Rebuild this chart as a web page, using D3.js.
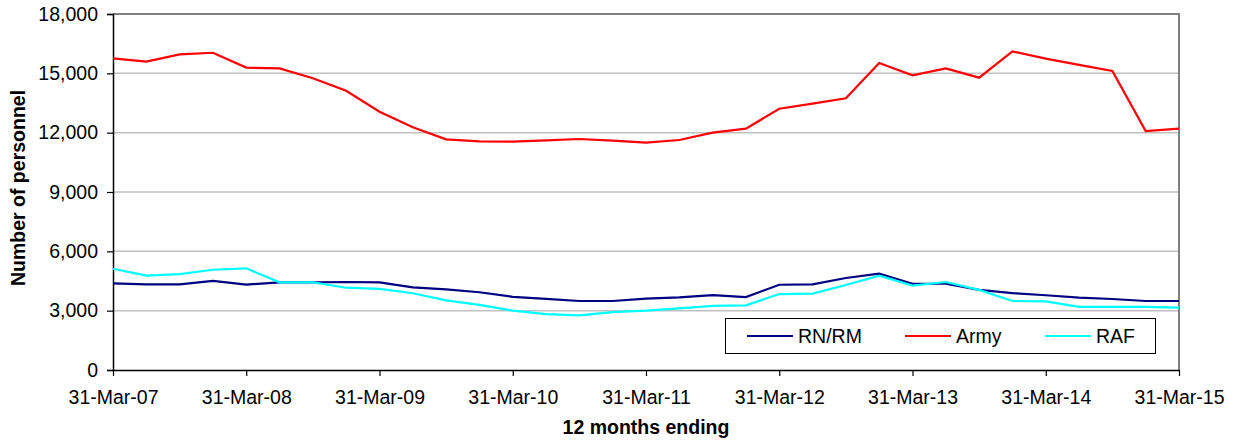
<!DOCTYPE html>
<html><head><meta charset="utf-8">
<script src="https://cdn.jsdelivr.net/npm/d3@7"></script>
<style>
html,body{margin:0;padding:0;background:#fff;}
svg{display:block;font-family:Arial,"Liberation Sans",sans-serif;}
</style></head>
<body>
<svg id="chart" width="1236" height="441"></svg>
<script>
const categories = [
 "31-Mar-07","30-Jun-07","30-Sep-07","31-Dec-07",
 "31-Mar-08","30-Jun-08","30-Sep-08","31-Dec-08",
 "31-Mar-09","30-Jun-09","30-Sep-09","31-Dec-09",
 "31-Mar-10","30-Jun-10","30-Sep-10","31-Dec-10",
 "31-Mar-11","30-Jun-11","30-Sep-11","31-Dec-11",
 "31-Mar-12","30-Jun-12","30-Sep-12","31-Dec-12",
 "31-Mar-13","30-Jun-13","30-Sep-13","31-Dec-13",
 "31-Mar-14","30-Jun-14","30-Sep-14","31-Dec-14",
 "31-Mar-15"];
const xTickLabels = ["31-Mar-07","31-Mar-08","31-Mar-09","31-Mar-10","31-Mar-11","31-Mar-12","31-Mar-13","31-Mar-14","31-Mar-15"];
const yTicks = [0,3000,6000,9000,12000,15000,18000];

const rnrm = [4380,4330,4330,4510,4320,4430,4430,4450,4430,4180,4080,3930,3700,3600,3490,3490,
              3610,3670,3790,3690,4310,4330,4650,4870,4360,4360,4050,3890,3780,3660,3590,3490,3490];
const army = [15760,15590,15960,16040,15290,15250,14750,14120,13060,12270,11660,11560,11550,11610,11680,11600,
              11500,11630,12000,12200,13210,13470,13740,15520,14900,15250,14780,16110,15740,15430,15120,12080,12200];
const raf  = [5120,4770,4850,5070,5140,4430,4430,4160,4100,3880,3520,3290,3000,2830,2760,2930,
              3000,3120,3240,3270,3840,3860,4300,4770,4270,4450,4050,3490,3470,3190,3190,3190,3150];

const series = [
  {name:"RN/RM", values:rnrm, color:"#000080"},
  {name:"Army",  values:army, color:"#ff0000"},
  {name:"RAF",   values:raf,  color:"#00ffff"}
];

const svg = d3.select("#chart");
const L=113, R=1179, T=14, B=370;
const x = d3.scalePoint().domain(categories).range([L,R]).padding(0);
const y = d3.scaleLinear().domain([0,18000]).range([B,T]);
const FS = "19.5px";

// gridlines
svg.append("g").selectAll("line").data(yTicks.filter(d=>d>0 && d<18000)).join("line")
  .attr("x1",L).attr("x2",R).attr("y1",d=>y(d)).attr("y2",d=>y(d))
  .attr("stroke","#c0c0c0").attr("stroke-width",1.5);
// top & right border
svg.append("path").attr("d",`M${L},${T}H${R}V${B}`).attr("fill","none")
  .attr("stroke","#808080").attr("stroke-width",2);

// Y axis
const yAxis = d3.axisLeft(y).tickValues(yTicks).tickFormat(d3.format(",")).tickSize(6).tickPadding(9);
const gy = svg.append("g").attr("transform",`translate(${L},0)`).call(yAxis);
gy.select(".domain").attr("stroke","#000").attr("stroke-width",1.5);
gy.selectAll(".tick line").attr("stroke","#000").attr("stroke-width",1.2);
gy.selectAll("text").attr("font-size",FS).attr("fill","#000").attr("font-family","Arial, 'Liberation Sans', sans-serif");

// X axis
const xAxis = d3.axisBottom(x).tickValues(xTickLabels).tickSize(6).tickPadding(14).tickSizeOuter(0);
const gx = svg.append("g").attr("transform",`translate(0,${B})`).call(xAxis);
gx.select(".domain").attr("stroke","#000").attr("stroke-width",1.5);
gx.selectAll(".tick line").attr("stroke","#000").attr("stroke-width",1.2);
gx.selectAll("text").attr("font-size",FS).attr("fill","#000").attr("font-family","Arial, 'Liberation Sans', sans-serif");

// lines
const line = d3.line().x((d,i)=>x(categories[i])).y(d=>y(d));
svg.append("g").selectAll("path").data(series).join("path")
  .attr("d",d=>line(d.values)).attr("fill","none")
  .attr("stroke",d=>d.color).attr("stroke-width",2.2).attr("stroke-linejoin","miter");

// axis titles
svg.append("text").attr("x",(L+R)/2).attr("y",434).attr("text-anchor","middle")
  .attr("font-size",FS).attr("font-weight","bold").text("12 months ending");
svg.append("text").attr("transform",`translate(25,${(T+B)/2-4}) rotate(-90)`).attr("text-anchor","middle")
  .attr("font-size",FS).attr("font-weight","bold").text("Number of personnel");

// legend
const lg = svg.append("g");
lg.append("rect").attr("x",725.5).attr("y",318.5).attr("width",430).attr("height",35)
  .attr("fill","#fff").attr("stroke","#000").attr("stroke-width",1);
const lx = [747,905,1045];
series.forEach((s,i)=>{
  lg.append("line").attr("x1",lx[i]).attr("x2",lx[i]+46).attr("y1",336).attr("y2",336)
    .attr("stroke",s.color).attr("stroke-width",2.2);
  lg.append("text").attr("x",lx[i]+51).attr("y",343).attr("font-size",FS).text(s.name);
});
</script>
</body></html>
